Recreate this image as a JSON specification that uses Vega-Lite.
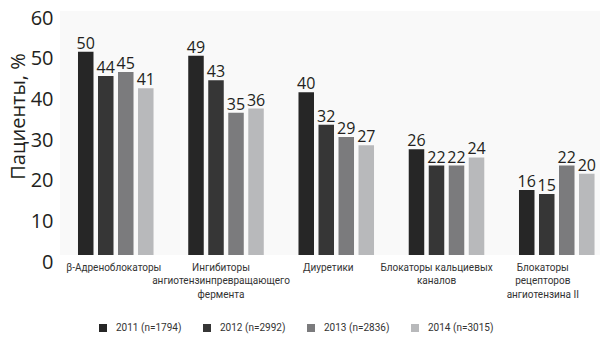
{
  "$schema": "https://vega.github.io/schema/vega-lite/v6.json",
  "width": 540,
  "height": 244,
  "autosize": {"type": "none"},
  "padding": {"left": 60, "top": 11, "right": 6, "bottom": 86},
  "background": "white",
  "view": {"fill": "#f9f9f9", "stroke": null},
  "data": {
    "values": [
      {"drug": "β-Адреноблокаторы", "year": "2011 (n=1794)", "value": 50},
      {"drug": "β-Адреноблокаторы", "year": "2012 (n=2992)", "value": 44},
      {"drug": "β-Адреноблокаторы", "year": "2013 (n=2836)", "value": 45},
      {"drug": "β-Адреноблокаторы", "year": "2014 (n=3015)", "value": 41},
      {"drug": "Ингибиторы|ангиотензинпревращающего|фермента", "year": "2011 (n=1794)", "value": 49},
      {"drug": "Ингибиторы|ангиотензинпревращающего|фермента", "year": "2012 (n=2992)", "value": 43},
      {"drug": "Ингибиторы|ангиотензинпревращающего|фермента", "year": "2013 (n=2836)", "value": 35},
      {"drug": "Ингибиторы|ангиотензинпревращающего|фермента", "year": "2014 (n=3015)", "value": 36},
      {"drug": "Диуретики", "year": "2011 (n=1794)", "value": 40},
      {"drug": "Диуретики", "year": "2012 (n=2992)", "value": 32},
      {"drug": "Диуретики", "year": "2013 (n=2836)", "value": 29},
      {"drug": "Диуретики", "year": "2014 (n=3015)", "value": 27},
      {"drug": "Блокаторы кальциевых|каналов", "year": "2011 (n=1794)", "value": 26},
      {"drug": "Блокаторы кальциевых|каналов", "year": "2012 (n=2992)", "value": 22},
      {"drug": "Блокаторы кальциевых|каналов", "year": "2013 (n=2836)", "value": 22},
      {"drug": "Блокаторы кальциевых|каналов", "year": "2014 (n=3015)", "value": 24},
      {"drug": "Блокаторы|рецепторов|ангиотензина II", "year": "2011 (n=1794)", "value": 16},
      {"drug": "Блокаторы|рецепторов|ангиотензина II", "year": "2012 (n=2992)", "value": 15},
      {"drug": "Блокаторы|рецепторов|ангиотензина II", "year": "2013 (n=2836)", "value": 22},
      {"drug": "Блокаторы|рецепторов|ангиотензина II", "year": "2014 (n=3015)", "value": 20}
    ]
  },
  "encoding": {
    "x": {
      "field": "drug",
      "type": "nominal",
      "sort": null,
      "scale": {"paddingInner": 0.274, "paddingOuter": 0.086, "align": 0.83},
      "axis": {
        "title": null,
        "labelAngle": 0,
        "labelExpr": "split(datum.value, '|')",
        "labelFont": "Roboto",
        "labelFontSize": 10,
        "labelColor": "#333333",
        "labelLineHeight": 13.5,
        "labelPadding": 7,
        "labelLimit": 300,
        "ticks": false,
        "domain": false,
        "labelOffset": {
          "condition": [
            {"test": "indexof(datum.value, 'Ингиб') >= 0", "value": -5},
            {"test": "indexof(datum.value, 'Диур') >= 0", "value": -8},
            {"test": "indexof(datum.value, 'кальц') >= 0", "value": -10},
            {"test": "indexof(datum.value, 'рецеп') >= 0", "value": -14}
          ],
          "value": -2
        }
      }
    },
    "xOffset": {
      "field": "year",
      "type": "nominal",
      "scale": {"paddingInner": 0.225, "paddingOuter": 0.1125}
    },
    "y": {
      "field": "value",
      "type": "quantitative",
      "scale": {"domain": [0, 60]},
      "axis": {
        "values": [0, 10, 20, 30, 40, 50, 60],
        "grid": false,
        "ticks": false,
        "domain": false,
        "labelFont": "Open Sans",
        "labelFontSize": 20,
        "labelColor": "#231f20",
        "labelPadding": 7,
        "labelOffset": 7,
        "title": "Пациенты, %",
        "titleFont": "Open Sans",
        "titleFontSize": 20,
        "titleFontWeight": "normal",
        "titleColor": "#231f20",
        "titleAngle": 270,
        "titleX": -36,
        "titleY": 105,
        "titleAlign": "center",
        "titleBaseline": "alphabetic"
      }
    }
  },
  "layer": [
    {
      "mark": {"type": "bar"},
      "encoding": {
        "color": {
          "field": "year",
          "type": "nominal",
          "scale": {
            "domain": ["2011 (n=1794)", "2012 (n=2992)", "2013 (n=2836)", "2014 (n=3015)"],
            "range": ["#262626", "#363636", "#7b7b7d", "#b8b9bb"]
          },
          "legend": {
            "title": null,
            "orient": "none",
            "legendX": 38,
            "legendY": 312,
            "direction": "horizontal",
            "columns": 4,
            "columnPadding": 20,
            "symbolType": "square",
            "symbolSize": 64,
            "symbolStrokeWidth": 0,
            "labelFont": "Roboto",
            "labelFontSize": 10,
            "labelColor": "#333333",
            "labelOffset": 8,
            "padding": 0
          }
        }
      }
    },
    {
      "mark": {"type": "text", "baseline": "alphabetic", "dy": -3, "font": "Open Sans", "fontSize": 16, "color": "#231f20"},
      "encoding": {"text": {"field": "value", "type": "quantitative"}}
    }
  ]
}
